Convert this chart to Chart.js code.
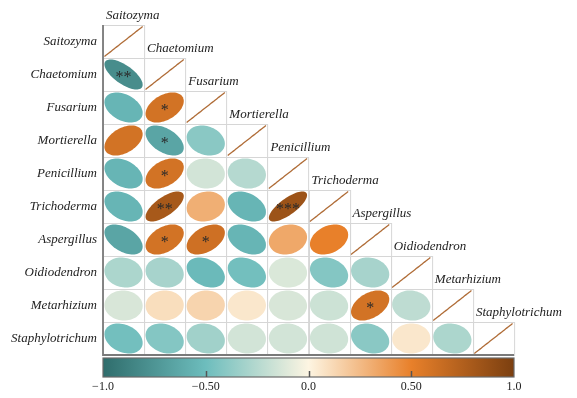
<!DOCTYPE html>
<html>
<head>
<meta charset="utf-8">
<script src="https://cdn.jsdelivr.net/npm/chart.js@4/dist/chart.umd.min.js"></script>
<style>
  html, body { margin: 0; padding: 0; background: #fff; }
  #wrap { width: 577px; height: 398px; }
</style>
</head>
<body>
<div id="wrap"><canvas id="c"></canvas></div>
<script>
// --- Data ---
const taxa = ['Saitozyma', 'Chaetomium', 'Fusarium', 'Mortierella', 'Penicillium',
  'Trichoderma', 'Aspergillus', 'Oidiodendron', 'Metarhizium', 'Staphylotrichum'];

// lower triangle, row i holds correlations with columns 0..i-1
const corrLower = [
  [],
  [-0.80],
  [-0.55, 0.60],
  [0.60, -0.65, -0.40],
  [-0.55, 0.60, -0.15, -0.25],
  [-0.55, 0.80, 0.30, -0.55, 0.85],
  [-0.65, 0.60, 0.62, -0.55, 0.33, 0.50],
  [-0.28, -0.30, -0.52, -0.48, -0.12, -0.42, -0.30],
  [-0.13, 0.10, 0.14, 0.06, -0.13, -0.17, 0.60, -0.22],
  [-0.48, -0.42, -0.32, -0.15, -0.15, -0.16, -0.40, 0.06, -0.28]
];
const sigLower = [
  [],
  ['**'],
  ['', '*'],
  ['', '*', ''],
  ['', '*', '', ''],
  ['', '**', '', '', '***'],
  ['', '*', '*', '', '', ''],
  ['', '', '', '', '', '', ''],
  ['', '', '', '', '', '', '*', ''],
  ['', '', '', '', '', '', '', '', '']
];

const colorTicks = [-1, -0.5, 0, 0.5, 1];
const colorTickLabels = ['\u22121.0', '\u22120.50', '0.0', '0.50', '1.0'];
const colorStops = [-1, -0.5, 0, 0.5, 1];
const stopColors = ['#2f6d6c', '#6dbdbd', '#fdf5e2', '#e8802a', '#7b3f10'];

// --- Helpers ---
const hexRgb = h => [1, 3, 5].map(k => parseInt(h.slice(k, k + 2), 16));
function corrColor(v) {
  for (let k = 0; k < colorStops.length - 1; k++) {
    if (v <= colorStops[k + 1]) {
      const t = (v - colorStops[k]) / (colorStops[k + 1] - colorStops[k]);
      const a = hexRgb(stopColors[k]), b = hexRgb(stopColors[k + 1]);
      const c = a.map((x, n) => Math.round(x + (b[n] - x) * t));
      return `rgb(${c[0]},${c[1]},${c[2]})`;
    }
  }
  return stopColors[stopColors.length - 1];
}

const points = [];
corrLower.forEach((row, i) => {
  row.forEach((r, j) => points.push({ x: j + 0.5, y: i + 0.5, r: r, s: sigLower[i][j] }));
  points.push({ x: i + 0.5, y: i + 0.5, r: 1, s: '', diag: true });
});

const serif = '"Liberation Serif", "DejaVu Serif", serif';

const corrPlugin = {
  id: 'corr',
  beforeDatasetsDraw(chart) {
    const { ctx } = chart;
    const x = chart.scales.x, y = chart.scales.y;
    ctx.save();
    ctx.strokeStyle = '#d6d6d6';
    ctx.lineWidth = 1;
    for (let i = 0; i < taxa.length; i++) {
      for (let j = 0; j <= i; j++) {
        const x0 = x.getPixelForValue(j), x1 = x.getPixelForValue(j + 1);
        const y0 = y.getPixelForValue(i), y1 = y.getPixelForValue(i + 1);
        ctx.strokeRect(Math.round(x0) + 0.5, Math.round(y0) + 0.5, x1 - x0, y1 - y0);
      }
    }
    // frame
    ctx.strokeStyle = '#7a7a7a';
    ctx.lineWidth = 1.8;
    ctx.beginPath();
    ctx.moveTo(x.getPixelForValue(0), y.getPixelForValue(0));
    ctx.lineTo(x.getPixelForValue(0), y.getPixelForValue(10));
    ctx.lineTo(x.getPixelForValue(10), y.getPixelForValue(10));
    ctx.stroke();
    ctx.restore();
  },
  afterDatasetsDraw(chart) {
    const { ctx, chartArea } = chart;
    const x = chart.scales.x, y = chart.scales.y, cb = chart.scales.cb;
    const meta = chart.getDatasetMeta(0);
    const cw = x.getPixelForValue(1) - x.getPixelForValue(0);
    const ch = y.getPixelForValue(1) - y.getPixelForValue(0);
    const sx = cw * 0.465, sy = ch * 0.455;
    ctx.save();
    meta.data.forEach((el, k) => {
      const p = points[k];
      // softened shape so moderate values look rounder
      const rs = Math.sign(p.r) * Math.pow(Math.abs(p.r), 1.7);
      const d = Math.acos(Math.max(-1, Math.min(1, rs)));
      ctx.beginPath();
      for (let s = 0; s <= 72; s++) {
        const t = s / 72 * Math.PI * 2;
        const px = el.x + sx * Math.cos(t + d / 2);
        const py = el.y - sy * Math.cos(t - d / 2);
        if (s === 0) ctx.moveTo(px, py); else ctx.lineTo(px, py);
      }
      if (p.diag) {
        ctx.strokeStyle = '#b06d38';
        ctx.lineWidth = 1.3;
        ctx.stroke();
      } else {
        ctx.fillStyle = corrColor(p.r);
        ctx.fill();
      }
      if (p.s) {
        ctx.fillStyle = '#2a2a2a';
        ctx.font = `16px ${serif}`;
        ctx.textAlign = 'center';
        ctx.textBaseline = 'middle';
        ctx.fillText(p.s, el.x, el.y + 3);
      }
    });
    // column labels above each diagonal cell
    ctx.fillStyle = '#222';
    ctx.font = `italic 13px ${serif}`;
    ctx.textAlign = 'left';
    ctx.textBaseline = 'alphabetic';
    taxa.forEach((name, j) => {
      ctx.fillText(name, x.getPixelForValue(j) + 3, y.getPixelForValue(j) - 6);
    });
    // colour bar
    const left = cb.getPixelForValue(-1), right = cb.getPixelForValue(1);
    const top = chartArea.bottom + 3, bottom = chartArea.bottom + 22;
    const grad = ctx.createLinearGradient(left, 0, right, 0);
    colorStops.forEach((v, k) => grad.addColorStop((v + 1) / 2, stopColors[k]));
    ctx.fillStyle = grad;
    ctx.fillRect(left, top, right - left, bottom - top);
    ctx.strokeStyle = '#6a6a6a';
    ctx.lineWidth = 1.2;
    ctx.strokeRect(left, top, right - left, bottom - top);
    ctx.strokeStyle = '#555';
    ctx.lineWidth = 1.5;
    colorTicks.slice(1, -1).forEach(v => {
      const px = Math.round(cb.getPixelForValue(v)) + 0.5;
      ctx.beginPath();
      ctx.moveTo(px, bottom);
      ctx.lineTo(px, bottom - 6);
      ctx.stroke();
    });
    ctx.restore();
  }
};

new Chart(document.getElementById('c'), {
  type: 'scatter',
  data: { datasets: [{ data: points, pointRadius: 0, pointHoverRadius: 0 }] },
  options: {
    responsive: true,
    maintainAspectRatio: false,
    animation: false,
    layout: { padding: { top: 25, right: 63, left: 0, bottom: 0 } },
    plugins: { legend: { display: false }, tooltip: { enabled: false } },
    scales: {
      x: { type: 'linear', min: 0, max: 10, display: false },
      y: {
        type: 'linear', min: 0, max: 10, reverse: true,
        afterFit: a => { a.width = 103; },
        afterBuildTicks: a => { a.ticks = taxa.map((_, i) => ({ value: i + 0.5 })); },
        grid: { display: false, drawTicks: false },
        border: { display: false },
        ticks: {
          padding: 6, color: '#222',
          font: { family: serif, size: 13, style: 'italic' },
          callback: v => taxa[Math.floor(v)]
        }
      },
      cb: {
        type: 'linear', position: 'bottom', min: -1, max: 1,
        afterFit: a => { a.height = 43; },
        afterBuildTicks: a => { a.ticks = colorTicks.map(v => ({ value: v })); },
        grid: { display: false, drawTicks: false },
        border: { display: false },
        ticks: {
          padding: 25, color: '#222', maxRotation: 0, autoSkip: false,
          font: { family: serif, size: 12 },
          callback: v => colorTickLabels[colorTicks.indexOf(v)]
        }
      }
    }
  },
  plugins: [corrPlugin]
});
</script>
</body>
</html>
